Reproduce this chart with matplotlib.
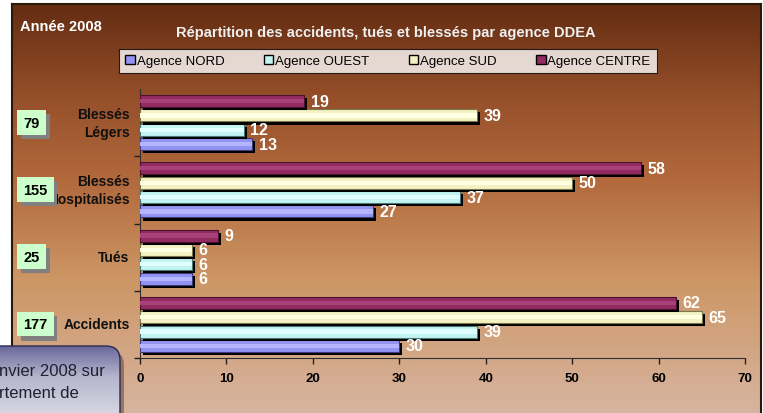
import numpy as np
import matplotlib
matplotlib.use("Agg")
import matplotlib.pyplot as plt
import matplotlib.patheffects as pe
from matplotlib.patches import FancyBboxPatch, Rectangle
from matplotlib.colors import LinearSegmentedColormap

plt.rcParams['font.family'] = ['Liberation Sans', 'DejaVu Sans']

# données (de bas en haut)
categories = ["Accidents", "Tués", "Blessés\nHospitalisés", "Blessés\nLégers"]
totals = [177, 25, 155, 79]
agences = ["Agence NORD", "Agence OUEST", "Agence SUD", "Agence CENTRE"]
nord = [30, 6, 27, 13]
ouest = [39, 6, 37, 12]
sud = [65, 6, 50, 39]
centre = [62, 9, 58, 19]

series = [nord, ouest, sud, centre]
colors = ["#9393f2", "#c2f4f2", "#f4f2c2", "#922c60"]
highlights = ["#b4b4ff", "#e2ffff", "#ffffe2", "#a8407a"]
edges = ["#3c3c78", "#4c7878", "#78784c", "#4c1030"]

W, H = 763, 414
fig = plt.figure(figsize=(W / 100, H / 100), dpi=100)
fig.patch.set_facecolor("white")

# fond dégradé
bg = fig.add_axes([12 / W, 0, 749 / W, 409 / H])
cmap = LinearSegmentedColormap.from_list(
    "bg", [(0, "#d7b4a0"), (0.33, "#cd9664"), (0.57, "#b2693c"), (0.77, "#96502a"), (1.0, "#642c12")])
grad = np.linspace(0, 1, 256).reshape(-1, 1)
bg.imshow(grad, aspect="auto", cmap=cmap, origin="lower", extent=[0, 1, 0, 1])
bg.set_xlim(0, 1)
bg.set_ylim(0, 1)
bg.spines["bottom"].set_visible(False)
for s in ["left", "right", "top"]:
    bg.spines[s].set_color("#2a180c")
    bg.spines[s].set_linewidth(1.5)
bg.set_xticks([])
bg.set_yticks([])

# zone du graphique
ax = fig.add_axes([140 / W, 1 - 359 / H, 605 / W, 269 / H])
ax.patch.set_alpha(0)
y = np.arange(len(categories))
offsets = [-0.32, -0.107, 0.107, 0.32]
bh = 0.18
shadow = [pe.SimplePatchShadow(offset=(2.2, -2.2), shadow_rgbFace="black", alpha=1), pe.Normal()]
for vals, off, c, hl, ec in zip(series, offsets, colors, highlights, edges):
    bars = ax.barh(y + off, vals, height=bh, color=c, edgecolor=ec, linewidth=0.8, zorder=3)
    for b in bars:
        b.set_path_effects(shadow)
    ax.barh(y + off, vals, height=bh * 0.35, color=hl, linewidth=0, zorder=4)
    for yi, v in zip(y, vals):
        ax.text(v + 0.75, yi + off, str(v), color="white", fontsize=11.5, fontweight="bold",
                va="center", ha="left", zorder=5)

ax.set_xlim(0, 70)
ax.set_ylim(-0.5, 3.5)
ax.set_xticks(range(0, 71, 10))
ax.set_yticks([-0.5, 0.5, 1.5, 2.5])
ax.set_yticklabels([])
ax.tick_params(axis="x", labelsize=9.5, colors="#202020", length=4, width=1, pad=6)
ax.tick_params(axis="y", length=4, width=1, direction="out", colors="#202020")
for lab in ax.get_xticklabels():
    lab.set_fontweight("bold")
    lab.set_color("black")
for s in ["top", "right"]:
    ax.spines[s].set_visible(False)
ax.spines["left"].set_color("#303030")
ax.spines["bottom"].set_color("#303030")

# libellés des catégories et totaux (boîtes vertes avec ombre grise)
for yi, cat, tot in zip(y, categories, totals):
    ax.text(-1.2, yi, cat, ha="right", va="center", fontsize=10, fontweight="bold",
            color="#101010", linespacing=1.35)
    bw = 3.3 if tot < 100 else 4.2
    x0 = -14.2
    ax.add_patch(Rectangle((x0 + 0.45, yi - 0.24), bw, 0.37, facecolor="#808080",
                           edgecolor="none", clip_on=False, zorder=5))
    ax.add_patch(Rectangle((x0, yi - 0.18), bw, 0.37, facecolor="#ccffcc",
                           edgecolor="none", clip_on=False, zorder=6))
    ax.text(x0 + bw / 2, yi, str(tot), ha="center", va="center", fontsize=10.5,
            fontweight="bold", color="black", zorder=7)

# titres
fig.text(20 / W, 1 - 27 / H, "Année 2008", color="white", fontsize=10.5, fontweight="bold", va="center")
fig.text(386 / W, 1 - 33 / H, "Répartition des accidents, tués et blessés par agence DDEA",
         color="#f0f0f0", fontsize=10.5, fontweight="bold", va="center", ha="center")

# légende
handles = [Rectangle((0, 0), 1, 1, facecolor=c, edgecolor="black", linewidth=1) for c in colors]
leg = fig.legend(handles, agences, loc="center", bbox_to_anchor=(388 / W, 1 - 62 / H), ncol=4,
                 fontsize=9.5, frameon=True, fancybox=False, handlelength=0.7, handleheight=0.7,
                 handletextpad=0.15, columnspacing=3.0, borderpad=0.45, borderaxespad=0)
leg.get_frame().set_edgecolor("black")
leg.get_frame().set_linewidth(0.8)

# encadré coupé en bas à gauche
call = fig.add_axes([0, 0, 1, 1], zorder=10)
call.axis("off")
call.patch.set_alpha(0)
sh = FancyBboxPatch((-36, 352), 160, 100, boxstyle="round,pad=0,rounding_size=14",
                    facecolor="#5a3a30", edgecolor="none", alpha=0.5)
call.add_patch(sh)
box = FancyBboxPatch((-40, 347), 160, 100, boxstyle="round,pad=0,rounding_size=14",
                     facecolor="none", edgecolor="#2a2a50", linewidth=1, zorder=2)
call.add_patch(box)
cg = LinearSegmentedColormap.from_list("cg", [(0, "#68689c"), (0.3, "#b4b4cc"), (1, "#f4f4f8")])
im = call.imshow(grad, aspect="auto", cmap=cg, extent=[-40, 120, 447, 347], zorder=1)
im.set_clip_path(box)
call.text(-1, 372, "nvier 2008 sur", fontsize=12, color="#202030", va="center", ha="left", zorder=3)
call.text(-1, 394, "rtement de", fontsize=12, color="#202030", va="center", ha="left", zorder=3)
call.set_xlim(0, W)
call.set_ylim(H, 0)

fig.savefig("out.png", dpi=100)
